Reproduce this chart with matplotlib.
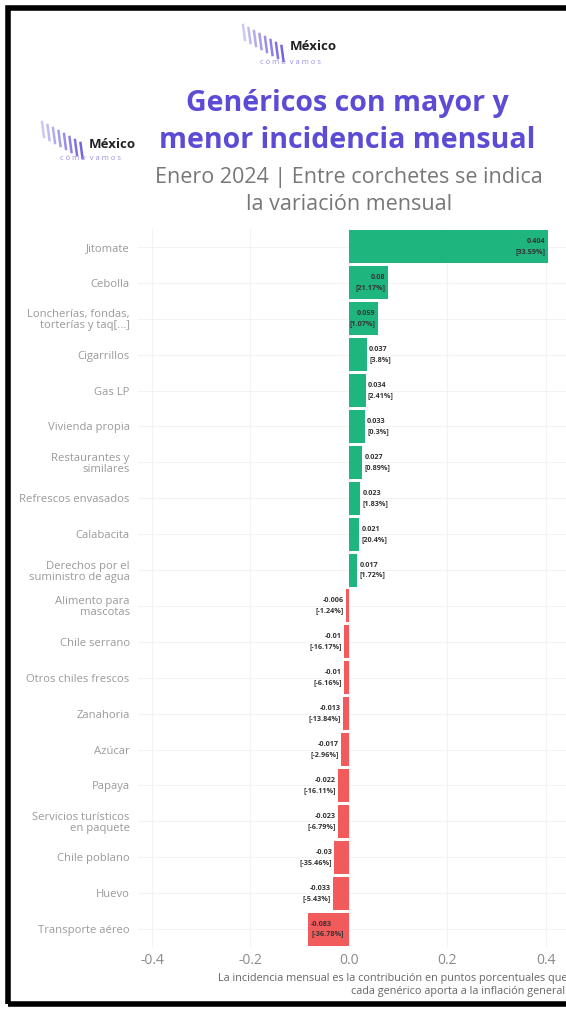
import matplotlib
matplotlib.use("Agg")
import matplotlib.pyplot as plt
from matplotlib.patches import Rectangle
from matplotlib.lines import Line2D

categorias = [
    "Jitomate", "Cebolla", "Loncherías, fondas,\ntorterías y taq[...]",
    "Cigarrillos", "Gas LP", "Vivienda propia", "Restaurantes y\nsimilares",
    "Refrescos envasados", "Calabacita", "Derechos por el\nsuministro de agua",
    "Alimento para\nmascotas", "Chile serrano", "Otros chiles frescos",
    "Zanahoria", "Azúcar", "Papaya", "Servicios turísticos\nen paquete",
    "Chile poblano", "Huevo", "Transporte aéreo",
]
incidencia = [0.404, 0.08, 0.059, 0.037, 0.034, 0.033, 0.027, 0.023, 0.021, 0.017,
              -0.006, -0.01, -0.01, -0.013, -0.017, -0.022, -0.023, -0.03, -0.033, -0.083]
variacion = [33.59, 21.17, 1.07, 3.8, 2.41, 0.3, 0.89, 1.83, 20.4, 1.72,
             -1.24, -16.17, -6.16, -13.84, -2.96, -16.11, -6.79, -35.46, -5.43, -36.78]
ticks_x = [-0.4, -0.2, 0.0, 0.2, 0.4]

VERDE = "#1FB57E"
ROJO = "#F15B5B"
MORADO = "#5B4BD5"

plt.rcParams["font.family"] = ["Open Sans", "DejaVu Sans"]

W, H = 566, 1011
fig = plt.figure(figsize=(W / 100, H / 100), dpi=100)


def fx(px):
    return px / W


def fy(py):
    return 1 - py / H


# marco negro
marco = Rectangle((fx(8), fy(1004)), 1.2, fy(8) - fy(1004), fill=False,
                  lw=4, edgecolor="black", transform=fig.transFigure, figure=fig)
fig.patches.append(marco)


# logos de México cómo vamos
def logo(x0, y0):
    for k in range(8):
        xs = x0 + k * 5.5
        ys = y0 + k * 3
        fig.add_artist(Line2D([fx(xs), fx(xs + 2)], [fy(ys), fy(ys + 15)],
                              color=MORADO, lw=1.8, alpha=0.3 + 0.08 * k,
                              transform=fig.transFigure))
    fig.text(fx(x0 + 70), fy(y0 + 22), "México", ha="center", va="center",
             fontsize=9.5, fontweight="bold", color="#222222")
    fig.text(fx(x0 + 48), fy(y0 + 37), "c ó m o  v a m o s", ha="center",
             va="center", fontsize=5.5, color="#9b8fe0")


logo(243, 25)
logo(42, 122)

fig.text(fx(347), fy(103), "Genéricos con mayor y", ha="center", va="center",
         fontsize=20.5, fontweight="bold", color=MORADO)
fig.text(fx(347), fy(140), "menor incidencia mensual", ha="center", va="center",
         fontsize=20.5, fontweight="bold", color=MORADO)
fig.text(fx(349), fy(178), "Enero 2024 | Entre corchetes se indica", ha="center",
         va="center", fontsize=15.5, color="#777777")
fig.text(fx(349), fy(205), "la variación mensual", ha="center", va="center",
         fontsize=15.5, color="#777777")

ax = fig.add_axes([fx(138), fy(947), fx(566) - fx(138), fy(229) - fy(947)])
filas = list(range(len(categorias)))
colores = [VERDE if v > 0 else ROJO for v in incidencia]
ax.barh(filas, incidencia, height=0.92, color=colores, zorder=2)
ax.set_ylim(len(categorias) - 0.5, -0.5)
ax.set_xlim(-0.4284, 0.4406)
ax.set_xticks(ticks_x)
ax.set_xticklabels([f"{t:.1f}" for t in ticks_x])
ax.set_yticks(filas)
ax.set_yticklabels(categorias)
ax.tick_params(axis="both", length=0)
ax.tick_params(axis="x", pad=4, labelsize=10, labelcolor="#8a8a8a")
ax.tick_params(axis="y", pad=6, labelsize=8.1, labelcolor="#9a9a9a")
for lab in ax.get_yticklabels():
    lab.set_multialignment("right")
    lab.set_linespacing(1.0)
for s in ax.spines.values():
    s.set_visible(False)
ax.grid(color="#f3f3f3", linewidth=0.8, zorder=0)

for i, v in enumerate(incidencia):
    texto = f"{v:.3g}\n[{variacion[i]:g}%]"
    if abs(v) > 0.05:
        x = v - 0.006 if v > 0 else v + 0.006
        ha = "right" if v > 0 else "left"
    else:
        x = v + 0.004 if v > 0 else v - 0.004
        ha = "left" if v > 0 else "right"
    ax.text(x, i, texto, ha=ha, va="center", fontsize=5.2, color="#333333",
            fontweight="bold", linespacing=1.6, zorder=3)

fig.text(fx(568), fy(985),
         "La incidencia mensual es la contribución en puntos porcentuales que\n"
         "cada genérico aporta a la inflación general.",
         ha="right", va="center", multialignment="right", fontsize=7.8,
         color="#666666", linespacing=1.25)

fig.savefig("out.png", dpi=100)
